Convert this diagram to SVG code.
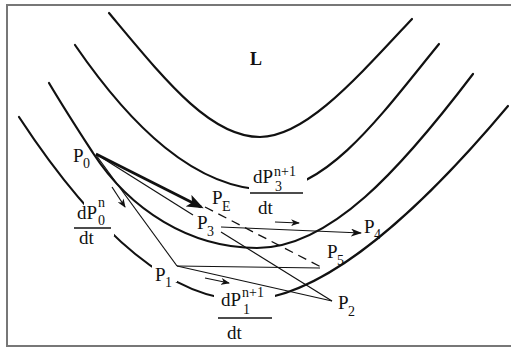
<svg xmlns="http://www.w3.org/2000/svg" width="511" height="348" viewBox="0 0 511 348">
<style>
.frame{fill:none;stroke:#777;stroke-width:2}
.curve{fill:none;stroke:#111;stroke-width:2.2;stroke-linecap:round}
.thin{fill:none;stroke:#111;stroke-width:1.2}
.thick{fill:none;stroke:#111;stroke-width:2.8}
.dash{fill:none;stroke:#111;stroke-width:1.3;stroke-dasharray:9 6}
.bar{stroke:#111;stroke-width:1.4}
text{font-family:"Liberation Serif","Times New Roman",serif;fill:#111}
.lb{font-size:19px}
.sb{font-size:14px}
.L{font-size:18px;font-weight:bold}
</style>
<defs>
<marker id="big" markerUnits="userSpaceOnUse" markerWidth="17" markerHeight="13" refX="14" refY="6.5" orient="auto">
<path d="M0,0 L17,6.5 L0,13 L4,6.5 z" fill="#111"/>
</marker>
<marker id="mid" markerUnits="userSpaceOnUse" markerWidth="11" markerHeight="8" refX="10" refY="4" orient="auto">
<path d="M0,0 L11,4 L0,8 L3,4 z" fill="#111"/>
</marker>
<marker id="sm" markerUnits="userSpaceOnUse" markerWidth="9" markerHeight="7" refX="8" refY="3.5" orient="auto">
<path d="M0,0 L9,3.5 L0,7 L2.5,3.5 z" fill="#111"/>
</marker>
<mask id="m2" maskUnits="userSpaceOnUse" x="0" y="0" width="511" height="348">
<rect width="511" height="348" fill="#fff"/>
<rect x="249" y="160" width="58" height="40" fill="#000"/>
</mask>
<mask id="m4" maskUnits="userSpaceOnUse" x="0" y="0" width="511" height="348">
<rect width="511" height="348" fill="#fff"/>
<rect x="84" y="200" width="30" height="36" fill="#000"/>
<rect x="152" y="262" width="25" height="20" fill="#000"/>
<rect x="214" y="282" width="61" height="32" fill="#000"/>
</mask>
</defs>
<rect class="frame" x="7" y="5" width="510" height="341"/>
<g id="contours">
<path id="c1" class="curve" d="M109,13 C165,80 210,137 260,137 C305,137 355,80 412,19"/>
<path id="c2" class="curve" mask="url(#m2)" d="M75,45 C130,125 195,190 270,190 C330,188 385,110 439,44"/>
<path id="c3" class="curve" d="M49,83 C65,110 80,133 93,153 C130,210 190,248 257,248 C330,248 400,170 473,74"/>
<path id="c4" class="curve" mask="url(#m4)" d="M19,117 C80,210 160,300 245,300 C325,300 425,205 508,106"/>
</g>
<g id="connectors">
<line class="thick" x1="96" y1="154" x2="201" y2="207" marker-end="url(#big)"/>
<line class="thin" x1="96" y1="154" x2="193" y2="215"/>
<line class="thin" x1="96" y1="155" x2="177" y2="266"/>
<line class="thin" x1="177" y1="266" x2="320" y2="268"/>
<line class="thin" x1="177" y1="266" x2="332" y2="301"/>
<line class="thin" x1="221" y1="232" x2="332" y2="301"/>
<line class="thin" x1="221" y1="227" x2="361" y2="233" marker-end="url(#mid)"/>
<line class="dash" x1="205" y1="207" x2="321" y2="267"/>
<line class="thin" x1="112" y1="187" x2="125" y2="207" marker-end="url(#sm)"/>
<line class="thin" x1="275" y1="222" x2="299" y2="223" marker-end="url(#sm)"/>
<line class="thin" x1="205" y1="278" x2="229" y2="283" marker-end="url(#sm)"/>
</g>
<g id="L"><text class="L" x="250" y="65">L</text></g>
<g id="P0"><text class="lb" x="73" y="162">P</text><text class="sb" x="83" y="168">0</text></g>
<g id="PE"><text class="lb" x="212" y="204">P</text><text class="sb" x="222" y="211">E</text></g>
<g id="P3"><text class="lb" x="197" y="229">P</text><text class="sb" x="207" y="236">3</text></g>
<g id="P4"><text class="lb" x="364" y="233">P</text><text class="sb" x="374" y="239">4</text></g>
<g id="P5"><text class="lb" x="327" y="258">P</text><text class="sb" x="337" y="265">5</text></g>
<g id="P2"><text class="lb" x="338" y="309">P</text><text class="sb" x="348" y="316">2</text></g>
<g id="P1"><text class="lb" x="155" y="281">P</text><text class="sb" x="165" y="287">1</text></g>
<g id="dP0dt">
<text class="lb" x="77" y="219">dP</text><text class="sb" x="98" y="207">n</text><text class="sb" x="98" y="225">0</text>
<line class="bar" x1="74" y1="228" x2="111" y2="228"/>
<text class="lb" x="79" y="244">dt</text>
</g>
<g id="dP3dt">
<text class="lb" x="253" y="183">dP</text><text class="sb" x="274" y="176">n+1</text><text class="sb" x="275" y="191">3</text>
<line class="bar" x1="250" y1="193" x2="303" y2="193"/>
<text class="lb" x="258" y="214">dt</text>
</g>
<g id="dP1dt">
<text class="lb" x="221" y="306">dP</text><text class="sb" x="242" y="297">n+1</text><text class="sb" x="243" y="314">1</text>
<line class="bar" x1="218" y1="318" x2="272" y2="318"/>
<text class="lb" x="227" y="339">dt</text>
</g>
</svg>
